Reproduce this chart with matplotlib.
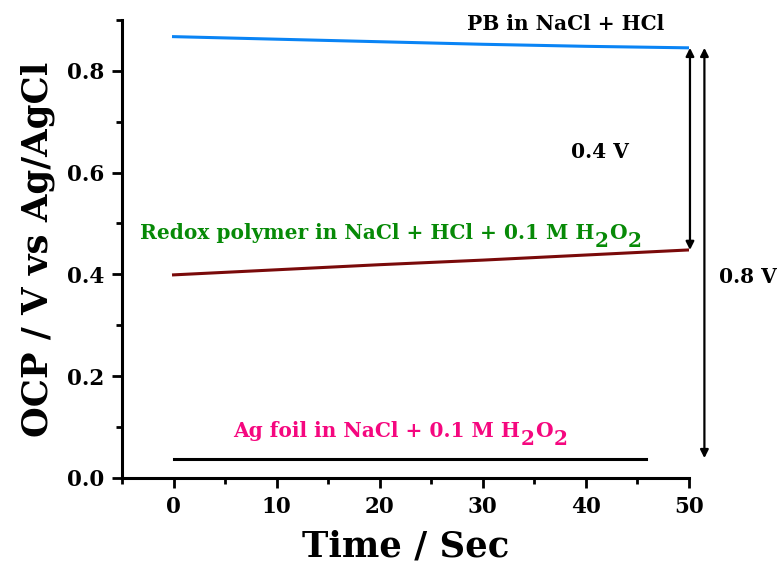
import matplotlib
matplotlib.use("Agg")
import matplotlib.pyplot as plt
from matplotlib.ticker import MultipleLocator

# OCP traces
t_pb = [0, 10, 20, 30, 40, 50]
ocp_pb = [0.867, 0.862, 0.857, 0.852, 0.848, 0.845]

t_redox = [0, 10, 20, 30, 40, 50]
ocp_redox = [0.399, 0.409, 0.419, 0.428, 0.438, 0.448]

t_ag = [0, 10, 20, 30, 40, 45.8]
ocp_ag = [0.037, 0.037, 0.037, 0.037, 0.037, 0.037]

x_ticks = [0, 10, 20, 30, 40, 50]
y_ticks = [0.0, 0.2, 0.4, 0.6, 0.8]

plt.rcParams["font.family"] = ["DejaVu Serif"]
plt.rcParams["font.weight"] = "bold"

fig = plt.figure(figsize=(7.82, 5.67), dpi=100)
ax = fig.add_axes([0.156, 0.157, 0.725, 0.808])

ax.plot(t_pb, ocp_pb, color="#0A84F5", lw=2.2)
ax.plot(t_redox, ocp_redox, color="#7A0A0A", lw=2.2)
ax.plot(t_ag, ocp_ag, color="black", lw=2.2)

ax.set_xlim(-5, 50)
ax.set_ylim(0, 0.9)
ax.set_xticks(x_ticks)
ax.set_yticks(y_ticks)
ax.set_yticklabels([f"{v:.1f}" for v in y_ticks])
ax.xaxis.set_minor_locator(MultipleLocator(5))
ax.yaxis.set_minor_locator(MultipleLocator(0.1))
for s in ["top", "right"]:
    ax.spines[s].set_visible(False)
for s in ["left", "bottom"]:
    ax.spines[s].set_linewidth(2.2)
ax.tick_params(which="major", direction="out", length=7, width=2, labelsize=15.5, pad=6)
ax.tick_params(which="minor", direction="out", length=4, width=2)
for lab in ax.get_xticklabels() + ax.get_yticklabels():
    lab.set_fontweight("bold")

ax.set_xlabel("Time / Sec", fontsize=25.5, fontweight="bold", labelpad=8)
ax.set_ylabel("OCP / V vs Ag/AgCl", fontsize=25.5, fontweight="bold", labelpad=8)

# Potential difference arrows
ax.annotate("", xy=(50.1, ocp_redox[-1]), xytext=(50.1, ocp_pb[-1]),
            arrowprops=dict(arrowstyle="<|-|>", color="black", lw=1.6,
                            mutation_scale=12, shrinkA=0, shrinkB=0),
            annotation_clip=False)
ax.annotate("", xy=(51.5, 0.039), xytext=(51.5, ocp_pb[-1]),
            arrowprops=dict(arrowstyle="<|-|>", color="black", lw=1.6,
                            mutation_scale=12, shrinkA=0, shrinkB=0),
            annotation_clip=False)

ax.text(38.0, 0.891, "PB in NaCl + HCl", fontsize=14.5, fontweight="bold",
        ha="center", va="center", clip_on=False)
ax.text(41.4, 0.641, "0.4 V", fontsize=14.5, fontweight="bold",
        ha="center", va="center")
ax.text(55.7, 0.395, "0.8 V", fontsize=14.5, fontweight="bold",
        ha="center", va="center", clip_on=False)


def chem_label(x, y, head, color, size=14.5, drop=6.0):
    """Write head + H2O2 with full-size, lowered subscripts."""
    kw = dict(fontsize=size, fontweight="bold", color=color)
    prev = ax.text(x, y, head + "H", ha="left", va="bottom", **kw)
    for piece, dy in (("2", -drop), ("O", drop), ("2", -drop)):
        prev = ax.annotate(piece, xy=(1, 0), xycoords=prev,
                           xytext=(0.5, dy), textcoords="offset points",
                           ha="left", va="bottom", **kw)


chem_label(-3.3, 0.462, "Redox polymer in NaCl + HCl + 0.1 M ", "#078A07")
chem_label(5.8, 0.073, "Ag foil in NaCl + 0.1 M ", "#F5077F")

fig.savefig("out.png", dpi=100)
